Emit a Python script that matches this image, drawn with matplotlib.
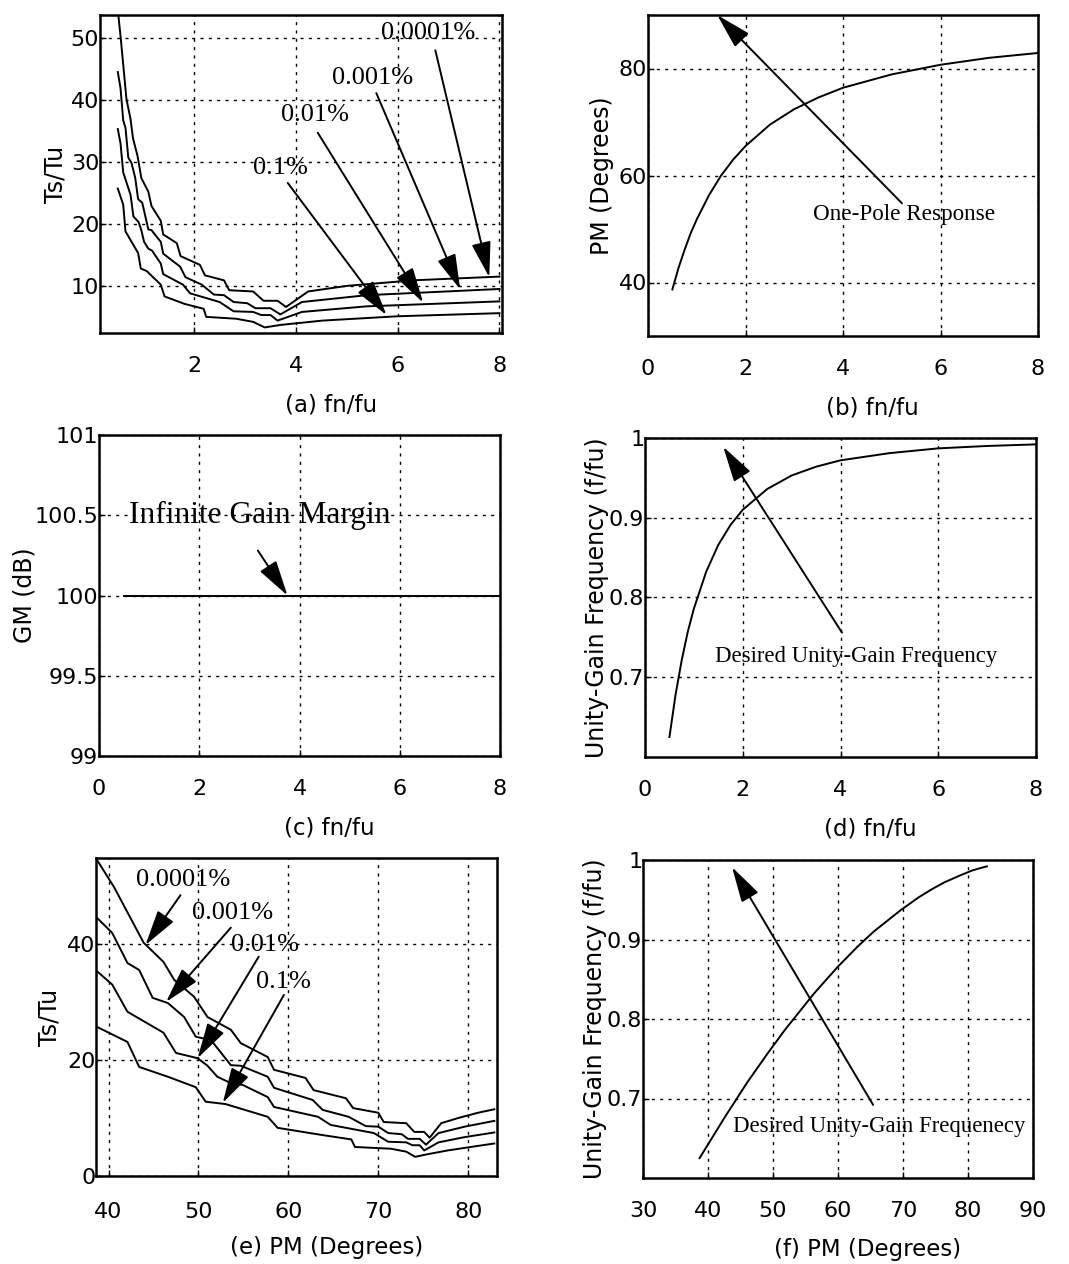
import numpy as np
import matplotlib
matplotlib.use("Agg")
import matplotlib.pyplot as plt
from matplotlib.ticker import FormatStrFormatter

# ---------------- data ----------------
fn_b = [0.5, 0.625, 0.75, 0.875, 1, 1.25, 1.5, 1.75, 2, 2.5, 3, 3.5, 4, 5, 6, 7, 8]
pm_b = [38.7, 42.7, 46.1, 49.2, 51.8, 56.3, 60.0, 63.0, 65.5, 69.5, 72.4, 74.6,
        76.4, 78.9, 80.7, 82.0, 82.9]
ugf_d = [0.625, 0.678, 0.721, 0.757, 0.786, 0.832, 0.866, 0.891, 0.910, 0.936,
         0.953, 0.964, 0.972, 0.981, 0.987, 0.990, 0.992]

gm_fn = [0.5, 8]
gm_db = [100, 100]

# settling-time curves, Ts/Tu versus phase margin (degrees)
ts_labels = ["0.0001%", "0.001%", "0.01%", "0.1%"]
pm_1 = [38.7, 40.6, 43.9, 46.1, 47.3, 49.5, 51.0, 53.6, 54.7, 57.7, 58.4, 61.9,
        62.8, 66.4, 67.2, 70.0, 70.6, 73.1, 74.0, 75.1, 75.7, 77.0, 78.9, 81.1, 82.9]
ts_1 = [54.5, 49.8, 40.2, 36.9, 33.8, 30.9, 27.4, 25.2, 22.9, 20.5, 18.3, 16.9,
        14.8, 13.4, 11.7, 10.9, 9.3, 9.1, 7.6, 7.6, 6.6, 9.1, 10.0, 10.9, 11.5]
pm_2 = [38.7, 40.4, 42.1, 43.4, 44.9, 46.6, 48.4, 49.7, 51.4, 53.6, 54.7, 57.7,
        58.4, 62.7, 63.8, 66.7, 68.6, 70.0, 71.1, 72.6, 73.3, 74.6, 75.3, 76.7,
        79.6, 82.9]
ts_2 = [44.5, 41.9, 36.7, 35.5, 30.7, 29.8, 27.4, 24.0, 23.4, 19.1, 19.0, 17.1,
        15.2, 13.1, 11.4, 10.2, 8.6, 8.5, 7.4, 7.2, 6.4, 6.4, 5.4, 7.4, 8.5, 9.5]
pm_3 = [38.7, 40.4, 42.1, 46.1, 47.5, 49.9, 51.0, 52.1, 53.6, 54.9, 57.7, 58.4,
        63.3, 64.7, 69.5, 71.1, 73.1, 73.8, 74.6, 75.1, 76.7, 79.6, 82.9]
ts_3 = [35.3, 33.0, 28.3, 24.7, 21.2, 20.3, 19.0, 17.1, 16.0, 15.7, 13.6, 11.9,
        10.2, 8.8, 7.4, 5.9, 5.8, 5.3, 5.3, 4.4, 5.8, 6.7, 7.5]
pm_4 = [38.7, 42.1, 43.4, 46.6, 49.7, 50.8, 53.0, 57.7, 58.8, 63.6, 67.0, 67.4,
        71.4, 73.1, 74.1, 75.3, 77.7, 80.7, 82.9]
ts_4 = [25.7, 23.1, 18.8, 17.1, 15.3, 12.8, 12.4, 10.2, 8.3, 7.1, 6.3, 5.0,
        4.7, 4.2, 3.3, 3.7, 4.4, 5.1, 5.6]
ts_pm = [pm_1, pm_2, pm_3, pm_4]
ts_val = [ts_1, ts_2, ts_3, ts_4]

# ---------------- style ----------------
SANS = "DejaVu Sans"
SERIF = "Liberation Serif"
plt.rcParams["font.family"] = SANS
W, H = 1069, 1264
fig = plt.figure(figsize=(W / 100, H / 100), dpi=100)
fig.patch.set_facecolor("white")


def px_axes(l, r, t, b):
    return fig.add_axes([l / W, 1 - b / H, (r - l) / W, (b - t) / H])


def style(ax, xlabel, ylabel, ylab_x, xpad=16.5):
    ax.grid(True, linestyle=(0, (2.2, 3.8)), color="k", lw=1.0)
    ax.set_axisbelow(True)
    for s in ax.spines.values():
        s.set_linewidth(1.8)
    ax.tick_params(direction="in", length=4, width=1, labelsize=16,
                   top=False, right=False)
    ax.tick_params(axis="x", pad=xpad)
    ax.tick_params(axis="y", pad=0.5)
    ax.set_xlabel(xlabel, fontsize=16.5)
    ax.set_ylabel(ylabel, fontsize=17)
    ax.xaxis.set_label_coords(0.575, -0.19)
    ax.yaxis.set_label_coords(ylab_x, 0.5)
    ax.xaxis.set_major_formatter(FormatStrFormatter("%g"))
    ax.yaxis.set_major_formatter(FormatStrFormatter("%g"))


def arrow(ax, tail, head):
    ax.annotate("", xy=head, xytext=tail,
                arrowprops=dict(arrowstyle="-|>,head_length=1.1,head_width=0.3",
                                mutation_scale=20, lw=1.4, color="k",
                                shrinkA=0, shrinkB=0))


LW = 1.4

# (a)
axa = px_axes(100, 502, 15, 333)
for pm, ts in zip(ts_pm, ts_val):
    axa.plot(np.interp(pm, pm_b, fn_b), ts, color="k", lw=LW)
axa.set_xlim(0.15, 8.05)
axa.set_ylim(2.4, 53.7)
axa.set_xticks([2, 4, 6, 8])
axa.set_yticks([10, 20, 30, 40, 50])
style(axa, "(a) fn/fu", "Ts/Tu", -0.08)
a_txt = [(6.6, 50.8), (5.5, 43.5), (4.38, 37.6), (3.7, 29.0)]
a_tail = [(6.74, 48.0), (5.58, 41.1), (4.43, 34.7), (3.84, 26.6)]
a_head = [(7.8, 11.4), (7.23, 9.4), (6.5, 7.3), (5.78, 5.3)]
for lab, tp, tl, hd in zip(ts_labels, a_txt, a_tail, a_head):
    axa.text(tp[0], tp[1], lab, family=SERIF, fontsize=19, ha="center", va="center")
    arrow(axa, tl, hd)

# (b)
axb = px_axes(648, 1038, 15, 336)
axb.plot(fn_b, pm_b, color="k", lw=LW)
axb.set_xlim(0, 8)
axb.set_ylim(30, 90)
axb.set_xticks([0, 2, 4, 6, 8])
axb.set_yticks([40, 60, 80])
style(axb, "(b) fn/fu", "PM (Degrees)", -0.087)
axb.text(3.38, 52.7, "One-Pole Response", family=SERIF, fontsize=16.7,
         ha="left", va="center")
arrow(axb, (5.21, 54.8), (1.42, 90))

# (c)
axc = px_axes(99, 500, 435, 756)
axc.plot(gm_fn, gm_db, color="k", lw=LW)
axc.set_xlim(0, 8)
axc.set_ylim(99, 101)
axc.set_xticks([0, 2, 4, 6, 8])
axc.set_yticks([99, 99.5, 100, 100.5, 101])
style(axc, "(c) fn/fu", "GM (dB)", -0.157)
axc.text(0.6, 100.5, "Infinite Gain Margin", family=SERIF, fontsize=22.6,
         ha="left", va="center")
arrow(axc, (3.17, 100.28), (3.76, 100.0))

# (d)
axd = px_axes(645, 1036, 438, 757)
axd.plot(fn_b, ugf_d, color="k", lw=LW)
axd.set_xlim(0, 8)
axd.set_ylim(0.6, 1.0)
axd.set_xticks([0, 2, 4, 6, 8])
axd.set_yticks([0.7, 0.8, 0.9, 1.0])
style(axd, "(d) fn/fu", "Unity-Gain Frequency (f/fu)", -0.092)
axd.text(1.43, 0.726, "Desired Unity-Gain Frequency", family=SERIF, fontsize=16.4,
         ha="left", va="center")
arrow(axd, (4.03, 0.756), (1.6, 0.989))

# (e)
axe = px_axes(96, 497, 858, 1176)
for pm, ts in zip(ts_pm, ts_val):
    axe.plot(pm, ts, color="k", lw=LW)
axe.set_xlim(38.6, 83.2)
axe.set_ylim(0, 54.8)
axe.set_xticks([40, 50, 60, 70, 80])
axe.set_yticks([0, 20, 40])
style(axe, "(e) PM (Degrees)", "Ts/Tu", -0.087, xpad=19)
e_txt = [(48.3, 51.0), (53.8, 45.3), (57.4, 39.8), (59.5, 33.4)]
e_tail = [(48.0, 48.4), (53.6, 42.8), (56.7, 37.8), (59.5, 31.2)]
e_head = [(44.1, 39.8), (46.4, 30.0), (49.9, 20.3), (52.7, 12.6)]
for lab, tp, tl, hd in zip(ts_labels, e_txt, e_tail, e_head):
    axe.text(tp[0], tp[1], lab, family=SERIF, fontsize=19, ha="center", va="center")
    arrow(axe, tl, hd)

# (f)
axf = px_axes(643, 1033, 860, 1178)
axf.plot(pm_b, ugf_d, color="k", lw=LW)
axf.set_xlim(30, 90)
axf.set_ylim(0.6, 1.0)
axf.set_xticks([30, 40, 50, 60, 70, 80, 90])
axf.set_yticks([0.7, 0.8, 0.9, 1.0])
style(axf, "(f) PM (Degrees)", "Unity-Gain Frequency (f/fu)", -0.093)
axf.text(43.9, 0.665, "Desired Unity-Gain Frequenecy", family=SERIF, fontsize=16.4,
         ha="left", va="center")
arrow(axf, (65.4, 0.692), (43.7, 0.991))

fig.savefig("out.png", dpi=100, facecolor="white")
